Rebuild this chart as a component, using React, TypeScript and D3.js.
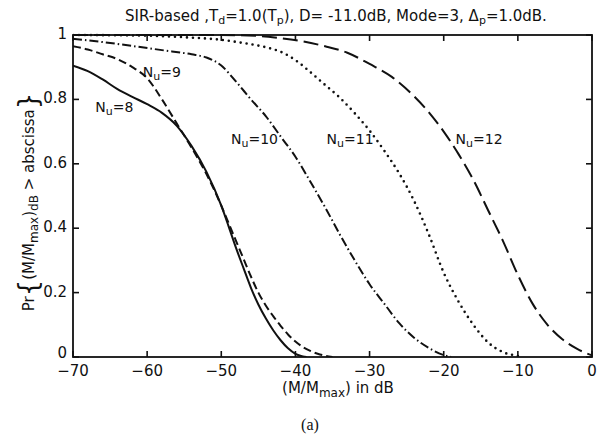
import React from "react";
import * as d3 from "d3";

// ---- data ----
const xTicks = [-70, -60, -50, -40, -30, -20, -10, 0];
const yTicks = [0, 0.2, 0.4, 0.6, 0.8, 1];
const yTickLabels = ["0", "0.2", "0.4", "0.6", "0.8", "1"];

const n8: [number, number][] = [
  [-70, 0.905], [-68, 0.888], [-66, 0.862], [-64, 0.832], [-62, 0.808], [-60, 0.785],
  [-58, 0.758], [-56, 0.718], [-54, 0.655], [-52, 0.575], [-50, 0.47], [-49, 0.405],
  [-48, 0.338], [-47, 0.276], [-46, 0.215], [-45, 0.163], [-44, 0.12], [-43, 0.083],
  [-42, 0.052], [-41, 0.027], [-40, 0.01], [-39, 0.002], [-38.5, 0.0],
];
const n9: [number, number][] = [
  [-70, 0.965], [-68, 0.955], [-66, 0.94], [-64, 0.925], [-62, 0.9], [-60, 0.866],
  [-58, 0.8], [-56, 0.725], [-54, 0.65], [-52, 0.568], [-50, 0.47], [-49, 0.415],
  [-48, 0.36], [-47, 0.305], [-46, 0.25], [-45, 0.2], [-44, 0.16], [-43, 0.127],
  [-42, 0.097], [-41, 0.07], [-40, 0.048], [-39, 0.031], [-38, 0.019], [-37, 0.01],
  [-36, 0.004], [-35, 0.0],
];
const n10: [number, number][] = [
  [-70, 0.988], [-66, 0.978], [-62, 0.966], [-58, 0.953], [-54, 0.94], [-52, 0.93],
  [-50, 0.905], [-48, 0.855], [-46, 0.8], [-44, 0.748], [-42, 0.685], [-40, 0.622],
  [-38, 0.545], [-36, 0.465], [-34, 0.38], [-32, 0.3], [-30, 0.226], [-28, 0.165],
  [-26, 0.105], [-24, 0.06], [-22, 0.028], [-20, 0.006], [-19, 0.0],
];
const n11: [number, number][] = [
  [-70, 1.0], [-60, 0.998], [-55, 0.993], [-50, 0.985], [-47, 0.975], [-44, 0.962],
  [-42, 0.948], [-40, 0.922], [-38, 0.885], [-36, 0.845], [-34, 0.805], [-32, 0.757],
  [-30, 0.703], [-28, 0.64], [-26, 0.57], [-24, 0.485], [-22, 0.38], [-20, 0.262],
  [-18, 0.172], [-16, 0.1], [-14, 0.045], [-12, 0.015], [-10, 0.003], [-9.5, 0.0],
];
const n12: [number, number][] = [
  [-70, 1.0], [-50, 1.0], [-45, 0.997], [-42, 0.99], [-39, 0.98], [-36, 0.965],
  [-33, 0.945], [-30, 0.91], [-27, 0.87], [-24, 0.81], [-22, 0.76], [-20, 0.7],
  [-18, 0.63], [-16, 0.55], [-14, 0.455], [-12, 0.36], [-10, 0.255], [-8, 0.165],
  [-6, 0.1], [-4, 0.055], [-2, 0.025], [0, 0.005],
];

const seriesNames = ["8", "9", "10", "11", "12"];
const seriesData = [n8, n9, n10, n11, n12];
// label anchor positions in data coordinates [dB, value]
const labelPos: [number, number][] = [
  [-67, 0.76], [-60.6, 0.87], [-48.7, 0.66], [-35.8, 0.66], [-18.4, 0.66],
];

const W = 598;
const H = 438;
const M = { left: 73, right: 592, top: 35, bottom: 357 };
const FONT = "'DejaVu Sans', 'Liberation Sans', sans-serif";

const styles = [
  { dash: "none", width: 2, cap: "butt" },
  { dash: "8 4", width: 2, cap: "butt" },
  { dash: "9 3 1.5 3", width: 2, cap: "butt" },
  { dash: "0 6", width: 2.6, cap: "round" },
  { dash: "15 6", width: 2, cap: "butt" },
];

export default function App() {
  const x = d3.scaleLinear().domain([-70, 0]).range([M.left, M.right]);
  const y = d3.scaleLinear().domain([0, 1]).range([M.bottom, M.top]);
  const line = d3
    .line<[number, number]>()
    .x((d) => x(d[0]))
    .y((d) => y(d[1]))
    .curve(d3.curveMonotoneX);
  const tickLen = 6;

  return (
    <svg width={W} height={H} style={{ display: "block", position: "absolute", left: 0, top: 0 }}>
      <rect x={0} y={0} width={W} height={H} fill="#fff" />
      {/* title */}
      <text x={336} y={21} textAnchor="middle" fontFamily={FONT} fontSize={15} fill="#111">
        SIR-based ,T<tspan fontSize={11} dy={3}>d</tspan>
        <tspan dy={-3}>=1.0(T</tspan>
        <tspan fontSize={11} dy={3}>p</tspan>
        <tspan dy={-3}>), D= -11.0dB, Mode=3, Δ</tspan>
        <tspan fontSize={11} dy={3}>p</tspan>
        <tspan dy={-3}>=1.0dB.</tspan>
      </text>

      {/* curves */}
      <defs>
        <clipPath id="clip">
          <rect x={M.left} y={M.top - 2} width={M.right - M.left} height={M.bottom - M.top + 2} />
        </clipPath>
      </defs>
      <g clipPath="url(#clip)">
        {seriesData.map((d, i) => (
          <path
            key={i}
            d={line(d) || ""}
            fill="none"
            stroke="#111"
            strokeWidth={styles[i].width}
            strokeDasharray={styles[i].dash}
            strokeLinecap={styles[i].cap as any}
          />
        ))}
      </g>

      {/* frame */}
      <rect
        x={M.left}
        y={M.top}
        width={M.right - M.left}
        height={M.bottom - M.top}
        fill="none"
        stroke="#111"
        strokeWidth={1.8}
      />
      {/* x ticks */}
      {xTicks.map((t) => (
        <g key={"x" + t}>
          <line x1={x(t)} x2={x(t)} y1={M.bottom} y2={M.bottom - tickLen} stroke="#111" strokeWidth={1.6} />
          <line x1={x(t)} x2={x(t)} y1={M.top} y2={M.top + tickLen} stroke="#111" strokeWidth={1.6} />
          <text x={x(t)} y={M.bottom + 19} textAnchor="middle" fontFamily={FONT} fontSize={15} fill="#111">
            {t === 0 ? "0" : "\u2212" + Math.abs(t)}
          </text>
        </g>
      ))}
      {/* y ticks */}
      {yTicks.map((t, i) => (
        <g key={"y" + t}>
          <line x1={M.left} x2={M.left + tickLen} y1={y(t)} y2={y(t)} stroke="#111" strokeWidth={1.6} />
          <line x1={M.right} x2={M.right - tickLen} y1={y(t)} y2={y(t)} stroke="#111" strokeWidth={1.6} />
          <text x={M.left - 6} y={y(t) + (t === 0 ? 1 : 4)} textAnchor="end" fontFamily={FONT} fontSize={15} fill="#111">
            {yTickLabels[i]}
          </text>
        </g>
      ))}

      {/* curve labels */}
      {seriesNames.map((n, i) => (
        <text key={"l" + n} x={x(labelPos[i][0])} y={y(labelPos[i][1])} fontFamily={FONT} fontSize={14} fill="#111">
          N<tspan fontSize={11} dy={3}>u</tspan>
          <tspan dy={-3}>={n}</tspan>
        </text>
      ))}

      {/* x label */}
      <text x={338} y={393} textAnchor="middle" fontFamily={FONT} fontSize={15} fill="#111">
        (M/M<tspan fontSize={12} dy={4}>max</tspan>
        <tspan dy={-4}>) in dB</tspan>
      </text>

      {/* y label */}
      <g transform={`translate(34, 202) rotate(-90)`}>
        <text x={0} y={0} textAnchor="middle" fontFamily={FONT} fontSize={15} fill="#111">
          Pr<tspan fontSize={26} dy={3}>{"{"}</tspan>
          <tspan dy={-3}>(M/M</tspan>
          <tspan fontSize={12} dy={4}>max</tspan>
          <tspan dy={-4}>)</tspan>
          <tspan fontSize={12} dy={4}>dB</tspan>
          <tspan dy={-4}> &gt; abscissa</tspan>
          <tspan fontSize={26} dy={3}>{"}"}</tspan>
        </text>
      </g>

      {/* caption */}
      <text x={310} y={430} textAnchor="middle" fontFamily="'Liberation Serif', 'Times New Roman', serif" fontSize={16} fill="#111">
        (a)
      </text>
    </svg>
  );
}
